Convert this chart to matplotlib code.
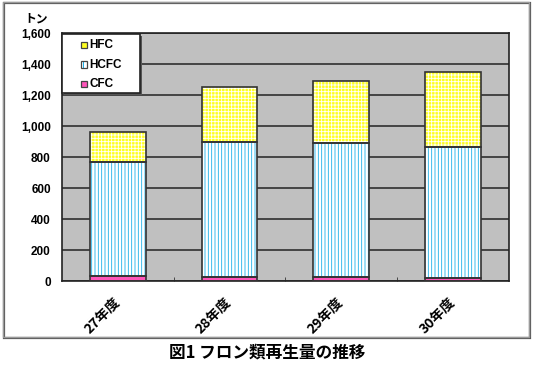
import matplotlib
matplotlib.use("Agg")
import matplotlib.pyplot as plt
from matplotlib.patches import Rectangle
import numpy as np

plt.rcParams['font.family'] = ['Liberation Sans', 'Noto Sans CJK JP', 'DejaVu Sans']
plt.rcParams['hatch.linewidth'] = 0.6

categories = ['27年度', '28年度', '29年度', '30年度']
cfc = [34, 28, 28, 19]
hcfc = [735, 868, 864, 847]
hfc = [191, 354, 401, 486]
series_names = ['CFC', 'HCFC', 'HFC']
yticks = [0, 200, 400, 600, 800, 1000, 1200, 1400, 1600]
ytick_labels = ['0', '200', '400', '600', '800', '1,000', '1,200', '1,400', '1,600']

W, H = 534, 370
fig = plt.figure(figsize=(5.34, 3.70), dpi=100)
fig.patch.set_facecolor('white')

# outer border
fig.add_artist(Rectangle((0.0075, 0.086), 0.985, 0.905, transform=fig.transFigure,
                         facecolor='none', edgecolor='#555555', lw=1.6))
fig.add_artist(Rectangle((0.0056, 0.089), 0.985, 0.905, transform=fig.transFigure,
                         facecolor='none', edgecolor='#9a9a9a', lw=1.0))

ax = fig.add_axes([0.116, 0.2405, 0.837, 0.670])
ax.set_facecolor('#C0C0C0')
x = np.arange(len(categories))
w = 0.5

styles = {
    'CFC': dict(face='#FF55BB', hatch='..', hcol='white'),
    'HCFC': dict(face='white', hatch='|||||', hcol='#1AAEE8'),
    'HFC': dict(face='#FFFF22', hatch='+++++', hcol='white'),
}

ax.set_axisbelow(True)
ax.yaxis.grid(True, color='#3a3a3a', lw=1.3)
bottom = np.zeros(len(categories))
for name, vals in zip(series_names, [cfc, hcfc, hfc]):
    s = styles[name]
    ax.bar(x, vals, w, bottom=bottom, color=s['face'], hatch=s['hatch'],
           edgecolor=s['hcol'], linewidth=0, zorder=2)
    ax.bar(x, vals, w, bottom=bottom, facecolor='none', edgecolor='#333333',
           linewidth=1.2, zorder=3)
    bottom += np.array(vals)

ax.set_xlim(-0.5, 3.5)
ax.set_ylim(0, 1600)
ax.set_yticks(yticks)
ax.set_yticklabels(ytick_labels, fontweight='bold', fontsize=8.5)
ax.tick_params(axis='y', length=0, pad=8)
ax.set_xticks(x)
ax.set_xticklabels(categories, rotation=45, ha='right', va='center',
                   rotation_mode='anchor', fontsize=10, fontweight='bold',
                   family=['Noto Sans CJK JP', 'DejaVu Sans'])
ax.tick_params(axis='x', length=0, pad=14)
ax.set_xticks([0.5, 1.5, 2.5], minor=True)
ax.tick_params(axis='x', which='minor', direction='in', length=3, color='#333333')
for sp in ax.spines.values():
    sp.set_color('#222222')
    sp.set_linewidth(1.2)

fig.text(36 / W, 1 - 19 / H, 'トン', fontsize=8.5, fontweight='bold',
         family=['Noto Sans CJK JP', 'DejaVu Sans'], ha='center', va='center')

# legend drawn manually in figure pixel coordinates
def fx(px):
    return px / W

def fy(py):
    return 1 - py / H

fig.add_artist(Rectangle((fx(64), fy(95)), fx(78), 59 / H, transform=fig.transFigure,
                         facecolor='#555555', edgecolor='none', zorder=6))
fig.add_artist(Rectangle((fx(62), fy(93)), fx(78), 59 / H, transform=fig.transFigure,
                         facecolor='white', edgecolor='#222222', lw=1.2, zorder=7))
leg_names = ['HFC', 'HCFC', 'CFC']
leg_rows = [45, 64.5, 84]
for n, ry in zip(leg_names, leg_rows):
    s = styles[n]
    fig.add_artist(Rectangle((fx(80.5), fy(ry + 3)), fx(6), 6 / H, transform=fig.transFigure,
                             facecolor=s['face'], edgecolor='none', lw=0, zorder=8))
    if n == 'HCFC':
        fig.add_artist(Rectangle((fx(83), fy(ry + 3)), fx(1.2), 6 / H,
                                 transform=fig.transFigure, facecolor='#1AAEE8',
                                 edgecolor='none', zorder=8.5))
    fig.add_artist(Rectangle((fx(80.5), fy(ry + 3)), fx(6), 6 / H, transform=fig.transFigure,
                             facecolor='none', edgecolor='#444444', lw=0.9, zorder=9))
    fig.text(fx(89), fy(ry), n, fontsize=8.5, fontweight='bold', ha='left', va='center',
             zorder=8)

fig.text(0.5, 0.048, '図1 フロン類再生量の推移', ha='center', va='center',
         fontsize=12, fontweight='bold', family=['Noto Sans CJK JP', 'DejaVu Sans'])

fig.savefig('out.png', dpi=100)
